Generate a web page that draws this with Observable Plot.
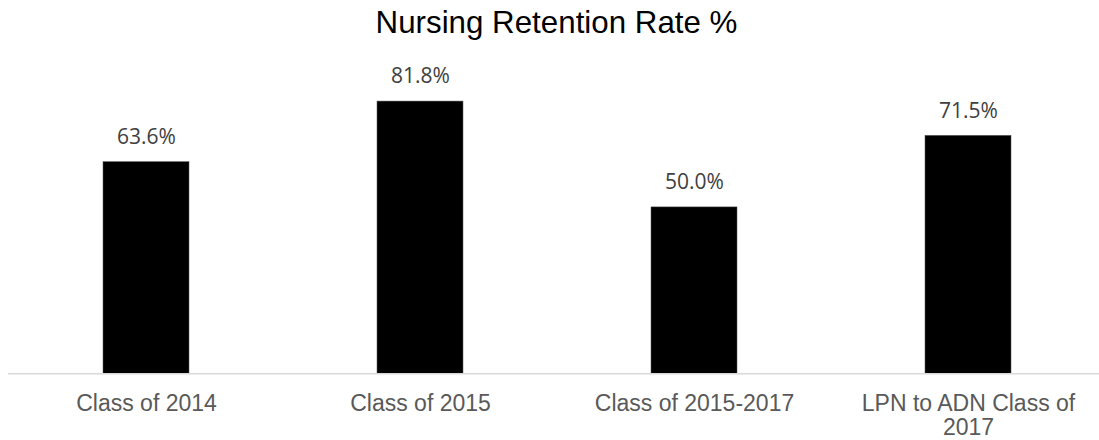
<!DOCTYPE html>
<html>
<head>
<meta charset="utf-8">
<script src="https://cdn.jsdelivr.net/npm/d3@7"></script>
<script src="https://cdn.jsdelivr.net/npm/@observablehq/plot@0.6"></script>
<style>
  html, body { margin: 0; padding: 0; background: #fff; }
  #wrap { position: relative; width: 1099px; height: 440px; overflow: hidden; }
  #title { position: absolute; left: 8px; width: 1097px; top: 7px; text-align: center;
           font-family: "Liberation Sans", Arial, sans-serif; font-size: 31.3px; line-height: 31px; color: #000; }
  #chart { position: absolute; left: 0; top: 0; }
</style>
</head>
<body>
<div id="wrap">
  <div id="chart"></div>
  <div id="title">Nursing Retention Rate %</div>
</div>
<script>
const categories = ["Class of 2014", "Class of 2015", "Class of 2015-2017", "LPN to ADN Class of 2017"];
const tickLabels = ["Class of 2014", "Class of 2015", "Class of 2015-2017", "LPN to ADN Class of\n2017"];
const values = [63.6, 81.8, 50.0, 71.5];

const data = categories.map((c, i) => ({category: c, value: values[i], tick: tickLabels[i]}));

const chart = Plot.plot({
  width: 1099,
  height: 440,
  marginLeft: 8,
  marginRight: 0,
  marginTop: 0,
  marginBottom: 0,
  style: {background: "transparent", overflow: "visible"},
  x: {domain: categories, range: [8.3, 1105.5], paddingInner: 0.6875, paddingOuter: 0.34375, align: 0.5, axis: null, label: null},
  y: {domain: [0, 100], range: [373.3, 40.5], axis: null, label: null},
  marks: [
    Plot.barY(data, {x: "category", y: "value", fill: "#000", stroke: "#595959", strokeWidth: 0.5}),
    Plot.ruleY([0], {stroke: "#d9d9d9", strokeWidth: 1.5}),
    Plot.text(data, {x: "category", y: "value", text: d => d.value.toFixed(1) + "%", dy: -25,
      lineAnchor: "middle", fontSize: 21, fill: "#404040", fontFamily: "Open Sans"}),
    Plot.text(data, {x: "category", y: () => 0, text: "tick", dy: 20, lineAnchor: "top", lineHeight: 1.05,
      fontSize: 23, fill: "#595959", fontFamily: "Liberation Sans, Arial, sans-serif"})
  ]
});
document.getElementById("chart").appendChild(chart);
</script>
</body>
</html>
